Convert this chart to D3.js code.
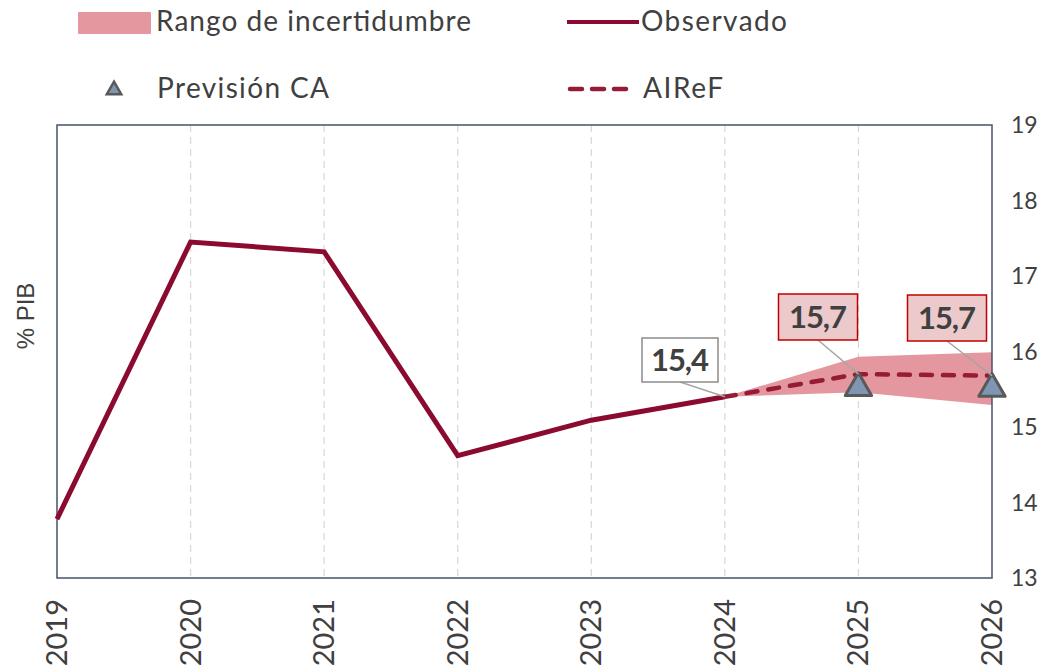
<!DOCTYPE html>
<html><head><meta charset="utf-8">
<script src="https://cdn.jsdelivr.net/npm/d3@7"></script>
<style>body{margin:0;background:#fff}svg{display:block}text{font-family:Lato,"Open Sans",sans-serif;fill:#404040}</style>
</head><body><svg id="c" width="1049" height="668"></svg>
<script>
const years = [2019,2020,2021,2022,2023,2024,2025,2026];
const observado = [13.78,17.45,17.32,14.62,15.09,15.40];
const airefYears = [2024,2025,2026];
const aireF = [15.40,15.70,15.68];
const bandLow = [15.40,15.46,15.29];
const bandHigh = [15.40,15.93,15.99];
const caYears = [2025,2026];
const previsionCA = [15.53,15.52];
const yTicks = [13,14,15,16,17,18,19];
const labels = [{year:2024,value:15.4,text:"15,4",type:"obs"},{year:2025,value:15.70,text:"15,7",type:"aire"},{year:2026,value:15.68,text:"15,7",type:"aire"}];

const svg = d3.select("#c");
const L=57,R=992,T=125,B=578;
const x = d3.scalePoint().domain(years).range([L,R]);
const y = d3.scaleLinear().domain([13,19]).range([B,T]);

// vertical grid
svg.append("g").selectAll("line").data(years.slice(1,-1)).join("line")
  .attr("x1",d=>x(d)).attr("x2",d=>x(d)).attr("y1",T).attr("y2",B)
  .attr("stroke","#d9d9d9").attr("stroke-width",1.3).attr("stroke-dasharray","7,5");

// band
const bandData = airefYears.map((yr,i)=>({yr,lo:bandLow[i],hi:bandHigh[i]}));
svg.append("path").datum(bandData)
  .attr("d",d3.area().x(d=>x(d.yr)).y0(d=>y(d.lo)).y1(d=>y(d.hi)))
  .attr("fill","#e4979f");

// frame
svg.append("rect").attr("x",L).attr("y",T).attr("width",R-L).attr("height",B-T)
  .attr("fill","none").attr("stroke","#44546a").attr("stroke-width",1.5);

// observed line
svg.append("path").datum(observado.map((v,i)=>[years[i],v]))
  .attr("d",d3.line().x(d=>x(d[0])).y(d=>y(d[1])))
  .attr("fill","none").attr("stroke","#8b0a2f").attr("stroke-width",5).attr("stroke-linejoin","miter");

// AIReF dashed
svg.append("path").datum(aireF.map((v,i)=>[airefYears[i],v]))
  .attr("d",d3.line().x(d=>x(d[0])).y(d=>y(d[1])))
  .attr("fill","none").attr("stroke","#951b36").attr("stroke-width",4.5).attr("stroke-dasharray","11,11").attr("stroke-linecap","round");

// triangles
const tri = d3.symbol().type(d3.symbolTriangle).size(300);
svg.append("g").selectAll("path").data(caYears.map((yr,i)=>[yr,previsionCA[i]])).join("path")
  .attr("d",tri).attr("transform",d=>`translate(${x(d[0])},${y(d[1])+1})`)
  .attr("fill","#7f96b3").attr("stroke","#595959").attr("stroke-width",3).attr("stroke-linejoin","round");

// data labels
const boxes = [
  {cx:680,cy:360,w:76,h:44},
  {cx:818,cy:317,w:79,h:46},
  {cx:947,cy:318,w:79,h:46}];
labels.forEach((lb,i)=>{
  const b=boxes[i];
  const px=x(lb.year), py=y(lb.value);
  svg.append("line").attr("x1",b.cx).attr("y1",b.cy+b.h/2).attr("x2",px).attr("y2",py)
    .attr("stroke","#a6a6a6").attr("stroke-width",1.5);
  svg.append("rect").attr("x",b.cx-b.w/2).attr("y",b.cy-b.h/2).attr("width",b.w).attr("height",b.h)
    .attr("fill",lb.type==="obs"?"#ffffff":"#ecc9cb")
    .attr("stroke",lb.type==="obs"?"#8c8c8c":"#c00000").attr("stroke-width",1.5);
  svg.append("text").attr("x",b.cx).attr("y",b.cy+11).attr("text-anchor","middle")
    .style("font-size","31px").style("font-weight","bold").attr("textLength",58).text(lb.text);
});

// right axis labels
svg.append("g").selectAll("text").data(yTicks).join("text")
  .attr("x",1011).attr("y",d=>y(d)+8).style("font-size","23px").text(d=>d);

// x axis labels rotated
svg.append("g").selectAll("text").data(years).join("text")
  .attr("transform",d=>`translate(${x(d)+10},599) rotate(-90)`).attr("text-anchor","end")
  .style("font-size","29px").text(d=>d);

// y title
svg.append("text").attr("transform","translate(34,316) rotate(-90)").attr("text-anchor","middle")
  .style("font-size","24px").style("font-family","'Liberation Sans',Arial,sans-serif").text("% PIB");

// legend
const lg = svg.append("g");
const lf = "28px";
lg.append("rect").attr("x",78).attr("y",12).attr("width",73).attr("height",22).attr("rx",1).attr("fill","#e4979f");
lg.append("text").attr("x",156).attr("y",31).style("font-size",lf).attr("textLength",315).text("Rango de incertidumbre");
lg.append("line").attr("x1",567).attr("x2",639).attr("y1",22).attr("y2",22).attr("stroke","#8b0a2f").attr("stroke-width",4);
lg.append("text").attr("x",641).attr("y",31).style("font-size",lf).attr("textLength",146).text("Observado");
lg.append("path").attr("d",d3.symbol().type(d3.symbolTriangle).size(90)).attr("transform","translate(114,90)")
  .attr("fill","#7f96b3").attr("stroke","#595959").attr("stroke-width",2.5);
lg.append("text").attr("x",157).attr("y",98).style("font-size",lf).attr("textLength",172).text("Previsión CA");
lg.append("line").attr("x1",570).attr("x2",628).attr("y1",89).attr("y2",89).attr("stroke","#951b36").attr("stroke-width",4.5).attr("stroke-dasharray","12,10").attr("stroke-linecap","round");
lg.append("text").attr("x",643).attr("y",98).style("font-size",lf).attr("textLength",80).text("AIReF");
</script></body></html>
